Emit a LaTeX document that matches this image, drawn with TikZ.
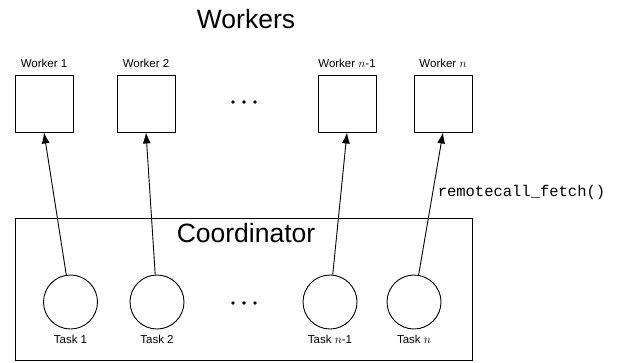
\documentclass[tikz,border=0pt]{standalone}
\usepackage{fontspec}
\setmainfont{Liberation Sans}
\newfontfamily\codefont{Liberation Mono}
\usetikzlibrary{arrows.meta}

\begin{document}
\begin{tikzpicture}[x=1pt,y=-1pt,>={Latex[length=11pt,width=8pt]},line width=0.9pt,
  every node/.style={font=\fontsize{11.5}{13}\selectfont},
  worker/.style={draw,minimum width=58pt,minimum height=57pt,inner sep=0pt},
  task/.style={draw,circle,minimum size=54pt,inner sep=0pt},
  big/.style={font=\fontsize{26.5}{30}\selectfont}]
  \useasboundingbox (0,0) rectangle (623,362);
  % workers
  \node[big] (title) at (246,19) {Workers};
  \node[worker] (w1) at (44,103.5) {};
  \node[worker] (w2) at (146,103.5) {};
  \node[worker] (w3) at (347,103.5) {};
  \node[worker] (w4) at (443,103.5) {};
  \node[above=3pt] (lw1) at (w1.north) {Worker 1};
  \node[above=3pt] (lw2) at (w2.north) {Worker 2};
  \node[above=3pt] (lw3) at (w3.north) {Worker $n$-1};
  \node[above=3pt] (lw4) at (w4.north) {Worker $n$};
  \foreach \x in {233,244,255} \fill (\x,102) circle (1.8pt);
  % coordinator
  \node[draw,minimum width=457pt,minimum height=142pt,inner sep=0pt] (coord) at (243.5,289) {};
  \node[big] (ctitle) at (246,233) {Coordinator};
  \node[task] (t1) at (70.5,302) {};
  \node[task] (t2) at (157,302) {};
  \node[task] (t3) at (330,302) {};
  \node[task] (t4) at (414,302) {};
  \node[below=2pt] (lt1) at (t1.south) {Task 1};
  \node[below=2pt] (lt2) at (t2.south) {Task 2};
  \node[below=2pt] (lt3) at (t3.south) {Task $n$-1};
  \node[below=2pt] (lt4) at (t4.south) {Task $n$};
  \foreach \x in {233,244,255} \fill (\x,303) circle (1.8pt);
  % calls
  \draw[->] (t1) -- (w1.south);
  \draw[->] (t2) -- (w2.south);
  \draw[->] (t3) -- (w3.south);
  \draw[->] (t4) -- (w4.south);
  \node[right,font=\codefont\fontsize{15.5}{18}\selectfont] (call) at (434,192) {remotecall\_fetch()};
\end{tikzpicture}
\end{document}
